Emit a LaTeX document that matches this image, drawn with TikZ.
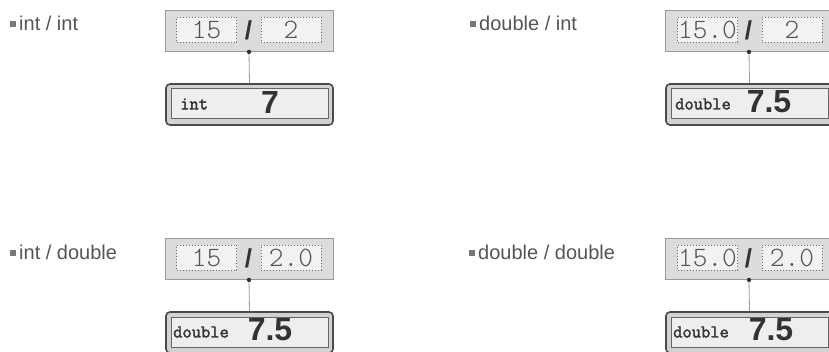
\documentclass[tikz,border=0pt]{standalone}
\usepackage{fontspec}
\setmainfont{Liberation Sans}
\newfontfamily\exprfont{Latin Modern Mono Light}
\newfontfamily\typefont[FakeBold=2]{Latin Modern Mono}
\usepackage{xcolor}

\definecolor{framegray}{HTML}{DCDCDC}
\definecolor{framedraw}{HTML}{9A9A9A}
\definecolor{boxfill}{HTML}{F2F2F2}
\definecolor{dotdraw}{HTML}{6E6E6E}
\definecolor{digitgray}{HTML}{555555}
\definecolor{darktext}{HTML}{333333}
\definecolor{resgray}{HTML}{D2D2D2}
\definecolor{resdraw}{HTML}{4A4A4A}
\definecolor{fieldfill}{HTML}{EEEEEE}
\definecolor{fielddraw}{HTML}{666666}
\definecolor{linkgray}{HTML}{9A9A9A}
\definecolor{labgray}{HTML}{555555}
\definecolor{bulgray}{HTML}{777777}

\newcommand{\casebullet}{\textcolor{bulgray}{\rule[4pt]{6pt}{6pt}}\hspace{3pt}}

\begin{document}
\begin{tikzpicture}[
    x=1pt, y=-1pt,
    exprframe/.style={draw=framedraw, fill=framegray, line width=0.8pt, minimum width=168pt, minimum height=41pt, inner sep=0pt},
    operand/.style={draw=dotdraw, dotted, line width=1pt, fill=boxfill, minimum width=60pt, minimum height=25pt, inner sep=0pt, text=digitgray, font=\exprfont\fontsize{28}{28}\selectfont},
    divop/.style={inner sep=0pt, text=darktext, font=\bfseries\fontsize{26}{26}\selectfont},
    resframe/.style={draw=resdraw, fill=resgray, line width=1.6pt, rounded corners=4pt, minimum width=167pt, minimum height=41pt, inner sep=0pt},
    resfield/.style={draw=fielddraw, fill=fieldfill, line width=1pt, minimum width=157pt, minimum height=30pt, inner sep=0pt},
    typename/.style={anchor=west, inner sep=0pt, text=darktext, font=\typefont\fontsize{18}{18}\selectfont},
    resnum/.style={inner sep=0pt, text=darktext, font=\bfseries\fontsize{32}{32}\selectfont},
    caselab/.style={anchor=base west, inner sep=0pt, text=labgray, font=\fontsize{20}{20}\selectfont},
    link/.style={draw=linkgray, line width=0.8pt}
]
\useasboundingbox (0,0) rectangle (829,352);
\clip (0,0) rectangle (829,352);

% --- int / int ---
\node[caselab] (lab1) at (10,31) {\casebullet int / int};
\node[exprframe] (ex1) at (249,31) {};
\node[operand] (lhs1) at (206.5,30) {15};
\node[divop] (op1) at (248.5,30) {/};
\node[operand] (rhs1) at (291,30) {2};
\node[resframe] (res1) at (249.5,104.5) {};
\node[resfield] (val1) at (249.5,104) {};
\node[typename] (typ1) at (180,104) {int};
\node[resnum] (num1) at (270,102) {7};
\draw[link] (ex1.south) -- (res1.north);
\fill[darktext] (ex1.south) circle (2.2);

% --- double / int ---
\node[caselab] (lab2) at (470,31) {\casebullet double / int};
\node[exprframe] (ex2) at (749,31) {};
\node[operand] (lhs2) at (707.5,30) {15.0};
\node[divop] (op2) at (748.5,30) {/};
\node[operand] (rhs2) at (792,30) {2};
\node[resframe] (res2) at (749.5,104.5) {};
\node[resfield] (val2) at (749.5,104) {};
\node[typename] (typ2) at (675,104) {double};
\node[resnum] (num2) at (769,102) {7.5};
\draw[link] (ex2.south) -- (res2.north);
\fill[darktext] (ex2.south) circle (2.2);

% --- int / double ---
\node[caselab] (lab3) at (10,260) {\casebullet int / double};
\node[exprframe] (ex3) at (249,259) {};
\node[operand] (lhs3) at (206.5,258) {15};
\node[divop] (op3) at (248.5,258) {/};
\node[operand] (rhs3) at (291,258) {2.0};
\node[resframe] (res3) at (249.5,332.5) {};
\node[resfield] (val3) at (249.5,332) {};
\node[typename] (typ3) at (173,332) {double};
\node[resnum] (num3) at (270,330) {7.5};
\draw[link] (ex3.south) -- (res3.north);
\fill[darktext] (ex3.south) circle (2.2);

% --- double / double ---
\node[caselab] (lab4) at (469,260) {\casebullet double / double};
\node[exprframe] (ex4) at (749,259) {};
\node[operand] (lhs4) at (707.5,258) {15.0};
\node[divop] (op4) at (748.5,258) {/};
\node[operand] (rhs4) at (792,258) {2.0};
\node[resframe] (res4) at (749.5,332.5) {};
\node[resfield] (val4) at (749.5,332) {};
\node[typename] (typ4) at (673,332) {double};
\node[resnum] (num4) at (771,330) {7.5};
\draw[link] (ex4.south) -- (res4.north);
\fill[darktext] (ex4.south) circle (2.2);

\end{tikzpicture}
\end{document}
